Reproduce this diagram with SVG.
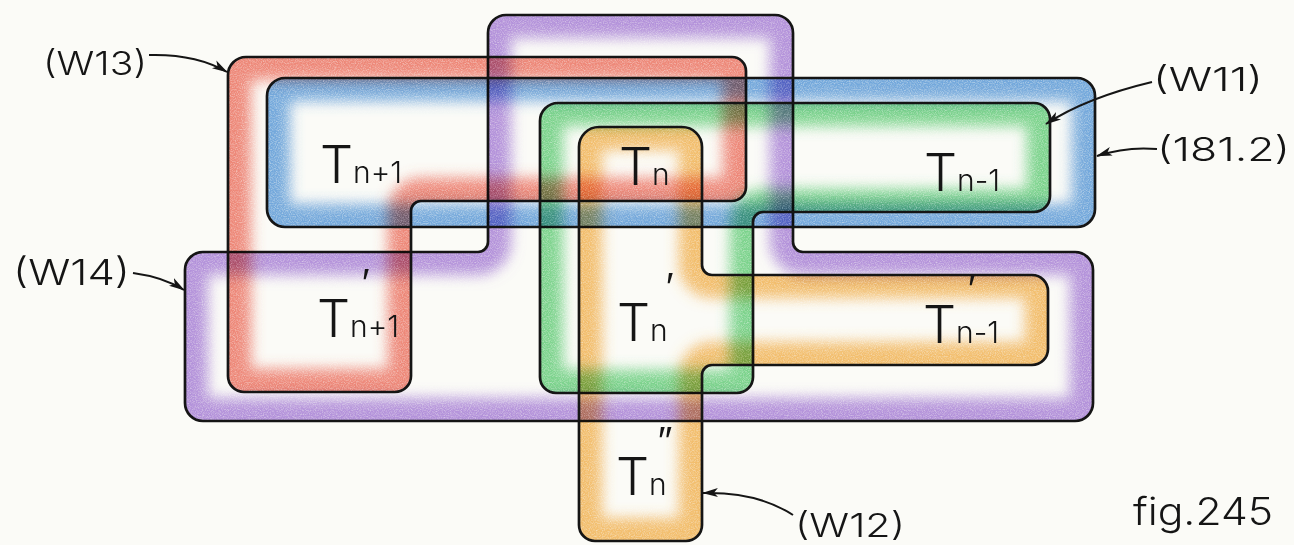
<svg xmlns="http://www.w3.org/2000/svg" width="1294" height="545" viewBox="0 0 1294 545">
<defs>
<style>
.out{fill:none;stroke:#151515;stroke-width:2.7;stroke-linejoin:round}
.shade{fill:none;stroke-width:46;filter:url(#pencil);mix-blend-mode:multiply;opacity:.72}
.t{font-family:Inter,"Liberation Sans",Arial,sans-serif;font-weight:300;font-size:52px;fill:#151515}
.sub{font-size:30px}
.pr{font-family:"DejaVu Sans",sans-serif;font-weight:300;font-size:40px}
.lbl{font-family:Inter,"Liberation Sans",Arial,sans-serif;font-weight:300;font-size:33px;fill:#151515}
.con{fill:none;stroke:#151515;stroke-width:2;marker-end:url(#ah)}
</style>
<filter id="pencil" filterUnits="userSpaceOnUse" x="0" y="0" width="1294" height="545">
<feGaussianBlur stdDeviation="7" result="b"/>
<feTurbulence type="fractalNoise" baseFrequency="0.85" numOctaves="2" seed="7" result="n"/>
<feColorMatrix in="n" type="matrix" values="0 0 0 0 1  0 0 0 0 1  0 0 0 0 1  1.0 0 0 0 0.4" result="g"/>
<feComposite in="b" in2="g" operator="in"/>
</filter>
<marker id="ah" viewBox="0 0 16 10" refX="15" refY="5" markerWidth="16" markerHeight="10" markerUnits="userSpaceOnUse" orient="auto">
<path d="M0,0.5 L16,5 L0,9.5 L4,5 Z" fill="#151515"/>
</marker>
<path id="pPurple" d="M506,15 H775 A18,18 0 0 1 793,33 V242 A10,10 0 0 0 803,252 H1075 A18,18 0 0 1 1093,270 V403 A18,18 0 0 1 1075,421 H203 A18,18 0 0 1 185,403 V270 A18,18 0 0 1 203,252 H478 A10,10 0 0 0 488,242 V33 A18,18 0 0 1 506,15 Z"/>
<path id="pRed" d="M246,57 H732 A14,14 0 0 1 746,71 V187 A14,14 0 0 1 732,201 H421 A10,10 0 0 0 411,211 V376 A16,16 0 0 1 395,392 H244 A16,16 0 0 1 228,376 V75 A18,18 0 0 1 246,57 Z"/>
<path id="pBlue" d="M285,78 H1077 A18,18 0 0 1 1095,96 V209 A18,18 0 0 1 1077,227 H285 A18,18 0 0 1 267,209 V96 A18,18 0 0 1 285,78 Z"/>
<path id="pGreen" d="M558,103 H1034 A16,16 0 0 1 1050,119 V196 A16,16 0 0 1 1034,212 H763 A10,10 0 0 0 753,222 V377 A16,16 0 0 1 737,393 H556 A16,16 0 0 1 540,377 V121 A18,18 0 0 1 558,103 Z"/>
<path id="pOrange" d="M599,127 H682 A20,20 0 0 1 702,147 V265 A10,10 0 0 0 712,275 H1032 A16,16 0 0 1 1048,291 V349 A16,16 0 0 1 1032,365 H712 A10,10 0 0 0 702,375 V525 A16,16 0 0 1 686,541 H595 A16,16 0 0 1 579,525 V147 A20,20 0 0 1 599,127 Z"/>
<clipPath id="cPurple"><use href="#pPurple"/></clipPath>
<clipPath id="cRed"><use href="#pRed"/></clipPath>
<clipPath id="cBlue"><use href="#pBlue"/></clipPath>
<clipPath id="cGreen"><use href="#pGreen"/></clipPath>
<clipPath id="cOrange"><use href="#pOrange"/></clipPath>
</defs>
<rect width="1294" height="545" fill="#fbfbf7"/>

<g id="node-W14">
<use href="#pPurple" class="shade" stroke="#9a6ad6" clip-path="url(#cPurple)"/>
<use href="#pPurple" class="out"/>
</g>
<g id="node-W13">
<use href="#pRed" class="shade" stroke="#ec5c48" clip-path="url(#cRed)"/>
<use href="#pRed" class="out"/>
<text class="t" x="320" y="183">T<tspan class="sub">n+1</tspan></text>
<text class="t" x="317" y="337">T<tspan class="sub">n+1</tspan><tspan class="pr" x="362" y="297">′</tspan></text>
</g>
<g id="node-181.2">
<use href="#pBlue" class="shade" stroke="#3f8ad8" clip-path="url(#cBlue)"/>
<use href="#pBlue" class="out"/>
</g>
<g id="node-W11">
<use href="#pGreen" class="shade" stroke="#4cc766" clip-path="url(#cGreen)"/>
<use href="#pGreen" class="out"/>
<text class="t" x="924" y="191">T<tspan class="sub">n-1</tspan></text>
</g>
<g id="node-W12">
<use href="#pOrange" class="shade" stroke="#f3a838" clip-path="url(#cOrange)"/>
<use href="#pOrange" class="out"/>
<text class="t" x="619" y="185">T<tspan class="sub">n</tspan></text>
<text class="t" x="617" y="341">T<tspan class="sub">n</tspan><tspan class="pr" x="666" y="301">′</tspan></text>
<text class="t" x="923" y="343">T<tspan class="sub">n-1</tspan><tspan class="pr" x="968" y="303">′</tspan></text>
<text class="t" x="616" y="495">T<tspan class="sub">n</tspan><tspan class="pr" x="658" y="455">″</tspan></text>
</g>

<g id="connectors">
<path class="con" d="M149,55 C185,54 210,62 227,72"/>
<path class="con" d="M133,273 C155,276 170,281 184,290"/>
<path class="con" d="M1152,82 C1110,92 1075,105 1046,124"/>
<path class="con" d="M1157,149 C1135,147 1115,150 1097,156"/>
<path class="con" d="M793,515 C770,500 740,492 703,493"/>
</g>

<g id="labels">
<text class="lbl" x="43" y="75" textLength="104" lengthAdjust="spacingAndGlyphs">(W13)</text>
<text class="lbl" x="13" y="285" textLength="117" lengthAdjust="spacingAndGlyphs" style="font-size:36px">(W14)</text>
<text class="lbl" x="1153" y="91" textLength="110" lengthAdjust="spacingAndGlyphs">(W11)</text>
<text class="lbl" x="1157" y="161" textLength="133" lengthAdjust="spacingAndGlyphs">(181.2)</text>
<text class="lbl" x="795" y="537" textLength="110" lengthAdjust="spacingAndGlyphs">(W12)</text>
<text class="lbl" x="1133" y="525" textLength="140" lengthAdjust="spacingAndGlyphs" style="font-size:38px">fig.245</text>
</g>
</svg>
